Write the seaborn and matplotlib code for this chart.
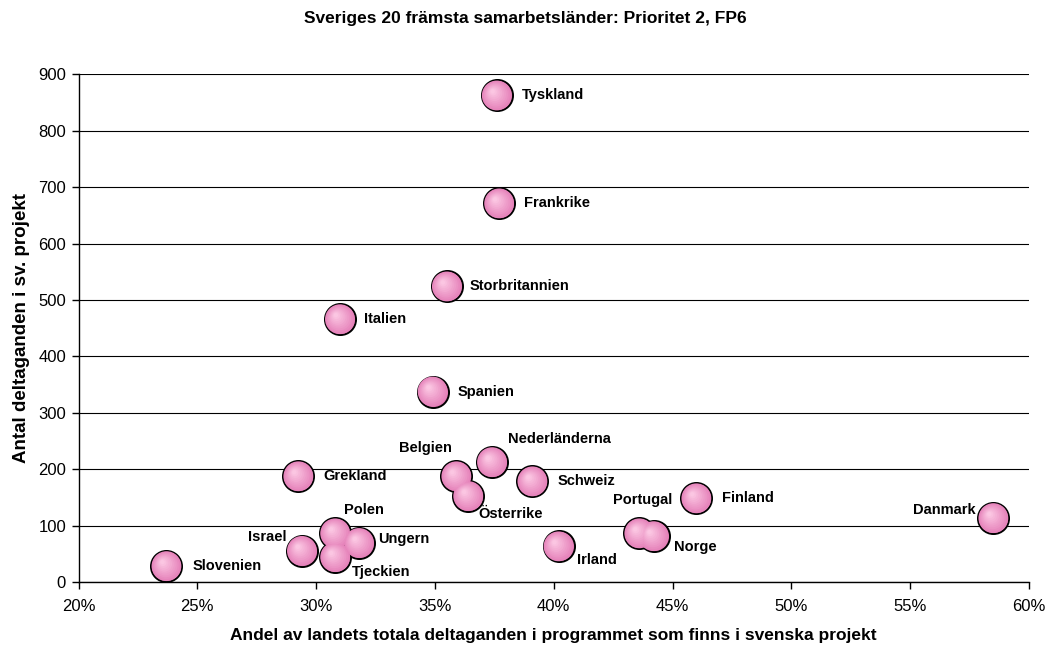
import matplotlib
matplotlib.use("Agg")
import matplotlib.pyplot as plt
import matplotlib.transforms as mtransforms
from matplotlib.colors import to_rgb
from matplotlib.ticker import FuncFormatter, MultipleLocator
import seaborn as sns
import pandas as pd
import numpy as np

countries = ["Tyskland", "Frankrike", "Storbritannien", "Italien", "Spanien",
             "Grekland", "Belgien", "Nederländerna", "Österrike", "Schweiz",
             "Finland", "Portugal", "Norge", "Danmark", "Irland",
             "Polen", "Ungern", "Israel", "Tjeckien", "Slovenien"]
share = [0.376, 0.377, 0.355, 0.310, 0.349,
         0.2925, 0.359, 0.374, 0.364, 0.391,
         0.460, 0.436, 0.442, 0.585, 0.402,
         0.308, 0.318, 0.294, 0.308, 0.237]
participants = [862, 671, 524, 466, 338,
                188, 188, 213, 153, 179,
                149, 87, 82, 114, 64,
                87, 70, 56, 45, 29]

# label offsets in pixels (dx, dy up) and alignment
label_pos = {
    "Tyskland": (25, 0, "left"), "Frankrike": (25, 0, "left"),
    "Storbritannien": (23, 0, "left"), "Italien": (24, 0, "left"),
    "Spanien": (25, 0, "left"), "Grekland": (25, 0, "left"),
    "Belgien": (-4, 28, "right"), "Nederländerna": (16, 23, "left"),
    "Österrike": (10, -18, "left"), "Schweiz": (25, 0, "left"),
    "Finland": (26, 0, "left"), "Portugal": (3, 33, "center"),
    "Norge": (20, -11, "left"), "Danmark": (-18, 8, "right"),
    "Irland": (18, -14, "left"), "Polen": (9, 23, "left"),
    "Ungern": (19, 4, "left"), "Israel": (-15, 14, "right"),
    "Tjeckien": (17, -15, "left"), "Slovenien": (26, 0, "left"),
}

df = pd.DataFrame({"land": countries, "andel": share, "antal": participants})

sns.set_theme(style="white")
plt.rcParams["font.family"] = ["Liberation Sans", "DejaVu Sans"]
plt.rcParams["text.color"] = "black"
plt.rcParams["axes.labelcolor"] = "black"
plt.rcParams["xtick.color"] = "black"
plt.rcParams["ytick.color"] = "black"

fig = plt.figure(figsize=(10.5, 6.52), dpi=100)
ax = fig.add_axes([0.0748, 0.1066, 0.9052, 0.7799])

ax.set_axisbelow(True)
ax.yaxis.grid(True, color="black", linewidth=0.8)
ax.xaxis.grid(False)

S = 500
sns.scatterplot(data=df, x="andel", y="antal", ax=ax, s=S, color="#df78b1",
                edgecolor="black", linewidth=1.4, legend=False, zorder=3)
# soft radial shading
c0 = np.array(to_rgb("#e684bb"))
c1 = np.array(to_rgb("#fbc6e2"))
n = 10
for i in range(n):
    t = i / (n - 1)
    frac = (1 - 0.85 * t) ** 2 * 0.92
    col = c0 * (1 - t) + c1 * t
    off = 4.0 * t
    tr = ax.transData + mtransforms.ScaledTranslation(-off / 100, off / 100, fig.dpi_scale_trans)
    ax.scatter(df["andel"], df["antal"], s=S * frac, color=col, edgecolor="none",
               transform=tr, zorder=4)

for name, x, y in zip(countries, share, participants):
    dx, dy, ha = label_pos[name]
    ax.annotate(name, (x, y), xytext=(dx, dy), textcoords="offset pixels",
                ha=ha, va="center", fontsize=10.5, fontweight="bold", color="black",
                zorder=5)

ax.set_xlim(0.20, 0.60)
ax.set_ylim(0, 900)
ax.xaxis.set_major_locator(MultipleLocator(0.05))
ax.yaxis.set_major_locator(MultipleLocator(100))
ax.xaxis.set_major_formatter(FuncFormatter(lambda v, p: f"{v*100:.0f}%"))

for side in ["top", "right"]:
    ax.spines[side].set_visible(False)
for side in ["left", "bottom"]:
    ax.spines[side].set_color("black")
    ax.spines[side].set_linewidth(1.0)

ax.tick_params(axis="both", which="major", direction="out", length=5, width=1,
               color="black", labelsize=12, labelcolor="black", bottom=True, left=True)
ax.tick_params(axis="x", pad=7)
ax.tick_params(axis="y", pad=4)

ax.set_xlabel("Andel av landets totala deltaganden i programmet som finns i svenska projekt",
              fontsize=12.5, fontweight="bold", labelpad=10)
ax.set_ylabel("Antal deltaganden i sv. projekt", fontsize=13.5, fontweight="bold", labelpad=6)

fig.text(0.5, 0.972, "Sveriges 20 främsta samarbetsländer: Prioritet 2, FP6",
         ha="center", va="center", fontsize=12.5, fontweight="bold")

fig.savefig("out.png", dpi=100)
